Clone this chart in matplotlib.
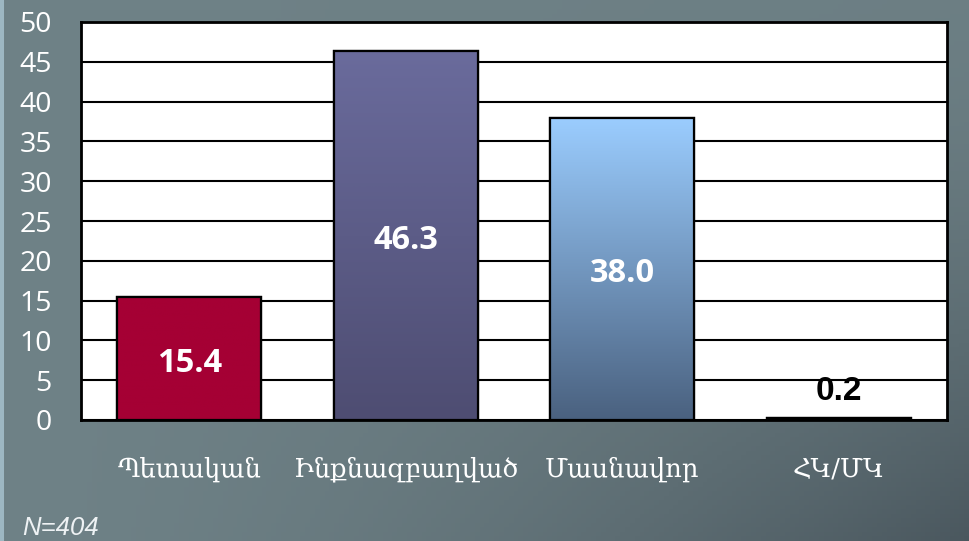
import numpy as np
import matplotlib
matplotlib.use("Agg")
import matplotlib.pyplot as plt
from matplotlib.colors import LinearSegmentedColormap, to_rgb
from matplotlib.patches import Rectangle

categories = ["Պետական", "Ինքնազբաղված", "Մասնավոր", "ՀԿ/ՄԿ"]
values = [15.4, 46.3, 38.0, 0.2]
labels = ["15.4", "46.3", "38.0", "0.2"]
yticks = [0, 5, 10, 15, 20, 25, 30, 35, 40, 45, 50]
note = "N=404"

bar_top = ["#a50034", "#6a6b9c", "#9bcdff", "#222222"]
bar_bot = ["#a50034", "#4e4d72", "#4a617f", "#222222"]

fig = plt.figure(figsize=(9.69, 5.41), dpi=100)

# background gradient
bg = fig.add_axes([0, 0, 1, 1], zorder=-10)
nx, ny = 200, 120
xx, yy = np.meshgrid(np.linspace(0, 1, nx), np.linspace(0, 1, ny))
t = np.clip(0.08 * xx + 0.9 * (xx * yy) ** 1.6, 0, 1)
c0 = np.array(to_rgb("#6f8287"))
c1 = np.array(to_rgb("#4a575e"))
img = c0[None, None, :] * (1 - t[..., None]) + c1[None, None, :] * t[..., None]
bg.imshow(img, extent=[0, 1, 0, 1], aspect="auto", origin="upper")
bg.set_axis_off()
fig.patches.append(Rectangle((0, 0), 3.5 / 969, 1, transform=fig.transFigure,
                             facecolor="#9db7c2", edgecolor="none", zorder=-5))

ax = fig.add_axes([81 / 969, 121 / 541, 866 / 969, 398 / 541])
ax.set_facecolor("white")
x = np.arange(len(categories))
bars = ax.bar(x, values, width=0.665, edgecolor="black", linewidth=1.6,
              color=bar_top, zorder=3)

for b, ct, cb in zip(bars, bar_top, bar_bot):
    cmap = LinearSegmentedColormap.from_list("g", [cb, ct])
    grad = np.linspace(0, 1, 256).reshape(-1, 1)
    x0, y0 = b.get_x(), b.get_y()
    w, h = b.get_width(), b.get_height()
    im = ax.imshow(grad, extent=[x0, x0 + w, y0, y0 + h], origin="lower",
                   aspect="auto", cmap=cmap, zorder=3.5)
    im.set_clip_path(b)
    ax.add_patch(Rectangle((x0, y0), w, h, facecolor="none", edgecolor="black",
                           linewidth=1.6, zorder=4))

ax.set_xlim(-0.5, len(categories) - 0.5)
ax.set_ylim(0, 50)
ax.set_yticks(yticks)
ax.set_yticklabels([str(v) for v in yticks], fontsize=20.5, color="white",
                   family=["Open Sans", "DejaVu Sans"])
ax.set_xticks(x)
ax.set_xticklabels(categories, fontsize=18.5, color="white", family=["DejaVu Serif"])
ax.tick_params(axis="y", length=0, pad=21)
ax.tick_params(axis="x", length=0, pad=26)
ax.yaxis.grid(True, color="black", linewidth=1.5, zorder=1)
ax.set_axisbelow(True)
for s in ax.spines.values():
    s.set_color("black")
    s.set_linewidth(2)
    s.set_zorder(5)

for i, (v, lab) in enumerate(zip(values, labels)):
    if v > 5:
        ax.annotate(lab, (i, v / 2), xytext=(0, -5), textcoords="offset pixels",
                    ha="center", va="center", color="white",
                    fontsize=23.5, fontweight="bold", family=["Open Sans", "DejaVu Sans"],
                    zorder=6)
    else:
        ax.annotate(lab, (i, v), xytext=(0, 11), textcoords="offset pixels",
                    ha="center", va="bottom", color="black", fontsize=24,
                    fontweight="bold", family=["Liberation Sans", "DejaVu Sans"],
                    zorder=6)

fig.text(22 / 969, 1 - 528 / 541, note, ha="left", va="center", fontsize=18.5,
         style="italic", color="#eef2f4", family=["Liberation Sans", "DejaVu Sans"])

fig.savefig("out.png", dpi=100)
